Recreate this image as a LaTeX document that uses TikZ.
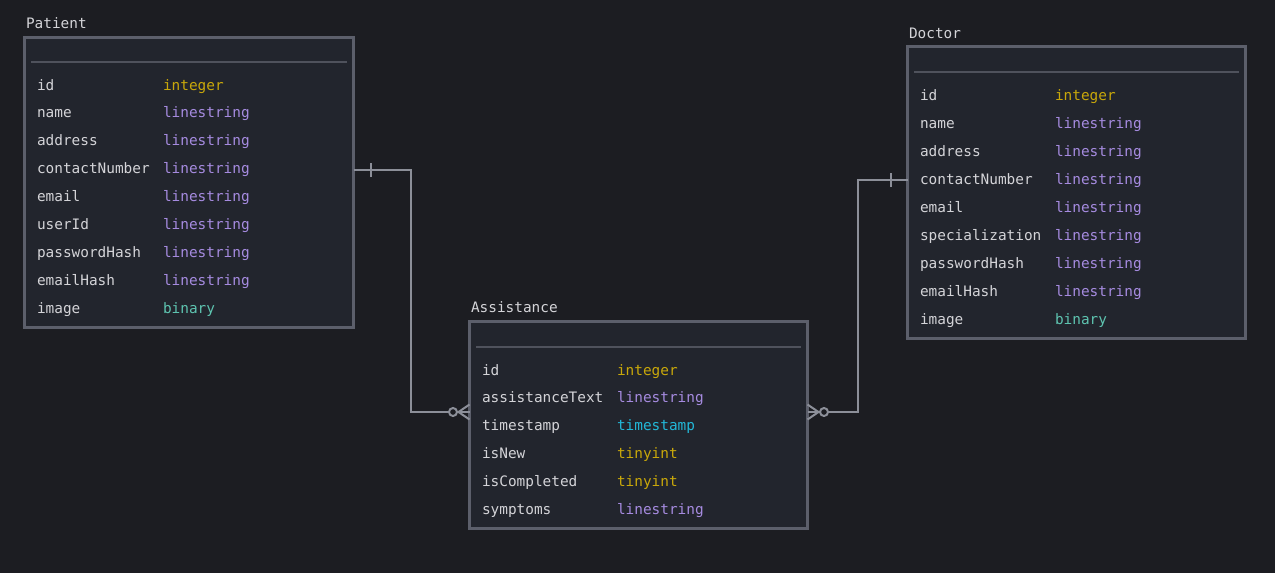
\documentclass[tikz,border=0pt]{standalone}
\usepackage{fontspec}
\newfontfamily\codefont{DejaVu Sans Mono}
\definecolor{bgc}{HTML}{1C1D22}
\definecolor{boxfill}{HTML}{22252D}
\definecolor{boxborder}{HTML}{5C5F6B}
\definecolor{sepc}{HTML}{4F525C}
\definecolor{namec}{HTML}{D4D4D8}
\definecolor{cint}{HTML}{C9A80A}
\definecolor{cstr}{HTML}{A68BE0}
\definecolor{cbin}{HTML}{5EC4B0}
\definecolor{cts}{HTML}{22B8D8}
\definecolor{connc}{HTML}{8C8F99}
\tikzset{
  tbox/.style={draw=boxborder, fill=boxfill, line width=3pt, rectangle, inner sep=0pt, outer sep=0pt, anchor=north west},
  sepline/.style={draw=sepc, line width=2pt},
  txt/.style={font=\codefont\fontsize{14.4}{16}\selectfont, inner sep=0pt, outer sep=0pt, anchor=base west, text height=10.5pt, text depth=3pt},
  fname/.style={txt, text=namec},
  ttitle/.style={txt, text=namec},
  conn/.style={draw=connc, line width=2pt},
}
\begin{document}
\begin{tikzpicture}[x=1pt,y=-1pt]
\useasboundingbox (0,0) rectangle (1275,573);
\fill[bgc] (0,0) rectangle (1275,573);

% ---------- Patient ----------
\node[ttitle] (ptitle) at (26,28) {Patient};
\node[tbox, minimum width=329pt, minimum height=290pt] (pbox) at (24.5,37.5) {};
\draw[sepline] (31,62) -- (347,62);
\foreach \n/\t/\c [count=\i] in {id/integer/cint, name/linestring/cstr, address/linestring/cstr, contactNumber/linestring/cstr, email/linestring/cstr, userId/linestring/cstr, passwordHash/linestring/cstr, emailHash/linestring/cstr, image/binary/cbin}{
  \node[fname] (pn\i) at (37,{90+(\i-1)*27.9}) {\n};
  \node[txt, text=\c] (pt\i) at (163,{90+(\i-1)*27.9}) {\t};
}

% ---------- Doctor ----------
\node[ttitle] (dtitle) at (909,38.3) {Doctor};
\node[tbox, minimum width=338pt, minimum height=292pt] (dbox) at (907.5,46.5) {};
\draw[sepline] (914,72) -- (1239,72);
\foreach \n/\t/\c [count=\i] in {id/integer/cint, name/linestring/cstr, address/linestring/cstr, contactNumber/linestring/cstr, email/linestring/cstr, specialization/linestring/cstr, passwordHash/linestring/cstr, emailHash/linestring/cstr, image/binary/cbin}{
  \node[fname] (dn\i) at (920,{100+(\i-1)*28}) {\n};
  \node[txt, text=\c] (dt\i) at (1055,{100+(\i-1)*28}) {\t};
}

% ---------- Assistance ----------
\node[ttitle] (atitle) at (471,312) {Assistance};
\node[tbox, minimum width=338pt, minimum height=207pt] (abox) at (469.5,321.5) {};
\draw[sepline] (476,347) -- (801,347);
\foreach \n/\t/\c [count=\i] in {id/integer/cint, assistanceText/linestring/cstr, timestamp/timestamp/cts, isNew/tinyint/cint, isCompleted/tinyint/cint, symptoms/linestring/cstr}{
  \node[fname] (an\i) at (482,{375+(\i-1)*27.8}) {\n};
  \node[txt, text=\c] (at\i) at (617,{375+(\i-1)*27.8}) {\t};
}

% ---------- Connectors ----------
\coordinate (aj) at (0,412);
\coordinate (pk) at (411,300);
\coordinate (dk) at (858,300);

% Patient -> Assistance
\draw[conn] (pbox.east |- pn4) -| (pk) |- (abox.west |- aj);
\draw[conn] ([xshift=17pt]pbox.east |- pn4) ++(0,-7) -- ++(0,14);
\draw[conn] ([xshift=-11pt]abox.west |- aj) -- ++(11,-7.5);
\draw[conn] ([xshift=-11pt]abox.west |- aj) -- ++(11,7.5);
\draw[conn, fill=bgc] ([xshift=-16.5pt]abox.west |- aj) circle (4pt);

% Doctor -> Assistance
\draw[conn] (dbox.west |- dn4) -| (dk) |- (abox.east |- aj);
\draw[conn] ([xshift=-17pt]dbox.west |- dn4) ++(0,-7) -- ++(0,14);
\draw[conn] ([xshift=11pt]abox.east |- aj) -- ++(-11,-7.5);
\draw[conn] ([xshift=11pt]abox.east |- aj) -- ++(-11,7.5);
\draw[conn, fill=bgc] ([xshift=16.5pt]abox.east |- aj) circle (4pt);
\end{tikzpicture}
\end{document}
